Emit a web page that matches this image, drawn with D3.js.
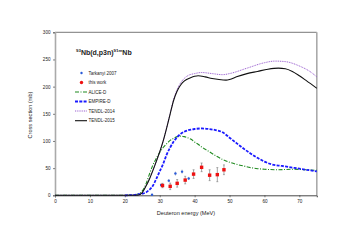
<!DOCTYPE html>
<meta charset="utf-8">
<style>
    body { margin: 0; background: #fff; }
    text { font-family: "Liberation Sans", Arial, sans-serif; fill: #222; }
</style>
<svg width="351" height="248"></svg>
<script src="https://d3js.org/d3.v7.min.js"></script>
<script>

    // measured data (Tarkanyi 2007, this work)
    var tarkE = [27.8, 30.4, 32.6, 34.5, 36.4, 38.3];
    var tarkV = [1, 19, 27, 40, 43.5, 31];
    var tarkErr = [1, 3, 3, 4, 4, 3];

    var workE = [30.8, 33.0, 35.0, 37.3, 39.7, 42.0, 44.3, 46.5, 48.4];
    var workV = [18, 16.5, 22, 28, 39, 51.5, 37, 38, 47];
    var workErr = [4, 6, 7, 7, 8, 8, 10, 13, 9];

    // model curves
    var aliceE = [0, 20, 22, 23, 24, 25, 26, 27, 28, 29, 30, 31, 32, 33, 34, 35, 36, 37, 38, 39, 40, 41, 42, 43, 44, 46, 48, 50, 52, 54, 56, 58, 60, 64, 68, 72, 75];
    var aliceV = [0, 0, 0.3, 1, 3, 8, 20, 38, 55, 68, 79, 88, 95, 101, 105, 108, 109, 108, 106, 103, 98, 94, 89, 85, 81, 73, 66, 61, 57, 54, 51, 49, 48, 47, 48, 47, 46];

    var empireE = [20, 22, 24, 25, 26, 27, 28, 29, 30, 31, 32, 33, 34, 35, 36, 37, 38, 39, 40, 42, 44, 46, 48, 50, 52, 54, 56, 58, 60, 62, 65, 68, 71, 75];
    var empireV = [0, 0.5, 2, 3, 5, 10, 17, 30, 44, 58, 75, 88, 99, 107, 113, 117, 119.5, 121, 122, 123, 122, 120, 116, 106, 96, 86, 77, 69, 62, 57, 54, 51, 48, 44];

    var tendl14E = [0, 20, 23, 24, 25, 26, 27, 28, 29, 30, 31, 32, 33, 34, 35, 36, 37, 38, 40, 42, 45, 48, 50, 55, 60, 63, 66, 70, 73, 75];
    var tendl14V = [0, 0, 0.2, 0.6, 5, 16, 29, 45, 62, 80, 100, 125, 151, 177, 195, 207, 215, 220, 224, 226, 224, 222, 224, 234, 244, 247, 246, 238, 228, 218];

    var tendl15E = [0, 20, 23, 24, 25, 26, 27, 28, 29, 30, 31, 32, 33, 34, 35, 36, 37, 38, 39, 40, 41, 43, 45, 47, 49, 50, 52, 55, 58, 61, 64, 66, 68, 70, 72, 75];
    var tendl15V = [0, 0, 0.2, 0.6, 5, 16, 29, 45, 62, 80, 100, 124, 150, 175, 192, 203, 210, 214, 217, 219, 220, 218, 215, 213, 212, 213, 218, 224, 228, 232, 234, 233, 228, 220, 211, 197];

    var xTicks = [0, 10, 20, 30, 40, 50, 60, 70];
    var yTicks = [0, 50, 100, 150, 200, 250, 300];

    var svg = d3.select("svg");

    var x = d3.scaleLinear().domain([0, 75]).range([55, 316.8]);
    var y = d3.scaleLinear().domain([0, 300]).range([195.3, 32.3]);

    function pts(es, vs) {
        return es.map(function(e, i) { return [e, vs[i]]; });
    }

    var line = d3.line()
        .x(function(d) { return x(d[0]); })
        .y(function(d) { return y(d[1]); })
        .curve(d3.curveMonotoneX);

    // frame
    svg.append("line").attr("x1", x(0)).attr("x2", x(75)).attr("y1", y(300)).attr("y2", y(300))
        .attr("stroke", "#555").attr("stroke-width", 0.8);
    svg.append("line").attr("x1", x(75)).attr("x2", x(75)).attr("y1", y(300)).attr("y2", y(0))
        .attr("stroke", "#aaa").attr("stroke-width", 1.6);

    // axes
    var xAxis = svg.append("g")
        .attr("transform", "translate(0," + y(0) + ")")
        .call(d3.axisBottom(x).tickValues(xTicks).tickSize(2).tickPadding(2.5));
    xAxis.select(".domain").attr("stroke", "#333").attr("stroke-width", 0.9);
    xAxis.selectAll("line").attr("stroke", "#333").attr("stroke-width", 0.6);
    xAxis.selectAll("text").style("font-size", "4.6px").attr("fill", "#222");

    var yAxis = svg.append("g")
        .attr("transform", "translate(" + x(0) + ",0)")
        .call(d3.axisLeft(y).tickValues(yTicks).tickSize(2).tickPadding(2.5));
    yAxis.select(".domain").attr("stroke", "#aaa").attr("stroke-width", 1.6);
    yAxis.selectAll("line").attr("stroke", "#333").attr("stroke-width", 0.6);
    yAxis.selectAll("text").style("font-size", "4.6px").attr("fill", "#222");

    // axis titles
    svg.append("text")
        .attr("x", 186).attr("y", 215)
        .attr("text-anchor", "middle")
        .style("font-size", "5.6px")
        .text("Deuteron energy (MeV)");

    svg.append("text")
        .attr("transform", "translate(32,115) rotate(-90)")
        .attr("text-anchor", "middle")
        .style("font-size", "5.6px")
        .text("Cross section (mb)");

    // curves
    var curves = [
        { e: aliceE, v: aliceV, color: "#1f8a1f", width: 1.1, dash: "4,1.5,1,1.5" },
        { e: empireE, v: empireV, color: "#1a1aff", width: 1.8, dash: "3,1.3" },
        { e: tendl14E, v: tendl14V, color: "#9a5fd0", width: 1, dash: "1,0.8" },
        { e: tendl15E, v: tendl15V, color: "#111", width: 1.1, dash: null }
    ];

    curves.forEach(function(c) {
        svg.append("path")
            .datum(pts(c.e, c.v))
            .attr("fill", "none")
            .attr("stroke", c.color)
            .attr("stroke-width", c.width)
            .attr("stroke-dasharray", c.dash)
            .attr("d", line);
    });

    // Tarkanyi points
    var tark = svg.append("g").selectAll("g")
        .data(tarkE.map(function(e, i) { return { e: e, v: tarkV[i], err: tarkErr[i] }; }))
        .enter().append("g");
    tark.append("line")
        .attr("x1", function(d) { return x(d.e); }).attr("x2", function(d) { return x(d.e); })
        .attr("y1", function(d) { return y(d.v - d.err); }).attr("y2", function(d) { return y(d.v + d.err); })
        .attr("stroke", "#999").attr("stroke-width", 0.5);
    tark.append("circle")
        .attr("cx", function(d) { return x(d.e); })
        .attr("cy", function(d) { return y(d.v); })
        .attr("r", 1.2)
        .attr("fill", "#2a5ad8");

    // this work points
    var work = svg.append("g").selectAll("g")
        .data(workE.map(function(e, i) { return { e: e, v: workV[i], err: workErr[i] }; }))
        .enter().append("g");
    work.append("line")
        .attr("x1", function(d) { return x(d.e); }).attr("x2", function(d) { return x(d.e); })
        .attr("y1", function(d) { return y(d.v - d.err); }).attr("y2", function(d) { return y(d.v + d.err); })
        .attr("stroke", "#666").attr("stroke-width", 0.6);
    [-1, 1].forEach(function(s) {
        work.append("line")
            .attr("x1", function(d) { return x(d.e) - 1; }).attr("x2", function(d) { return x(d.e) + 1; })
            .attr("y1", function(d) { return y(d.v + s * d.err); }).attr("y2", function(d) { return y(d.v + s * d.err); })
            .attr("stroke", "#666").attr("stroke-width", 0.5);
    });
    work.append("rect")
        .attr("x", function(d) { return x(d.e) - 1.7; })
        .attr("y", function(d) { return y(d.v) - 1.7; })
        .attr("width", 3.4).attr("height", 3.4)
        .attr("fill", "#ee1111");

    // title
    var title = svg.append("text")
        .attr("x", 76).attr("y", 54.5)
        .style("font-size", "7px")
        .style("font-weight", "bold");
    title.append("tspan").attr("dy", "-2.3").style("font-size", "4.4px").text("93");
    title.append("tspan").attr("dy", "2.3").text("Nb(d,p3n)");
    title.append("tspan").attr("dy", "-2.3").style("font-size", "4.4px").text("91m");
    title.append("tspan").attr("dy", "2.3").text("Nb");

    // legend
    var legendNames = ["Tarkanyi 2007", "this work", "ALICE-D", "EMPIRE-D", "TENDL-2014", "TENDL-2015"];
    var legendY = [73, 82.5, 92, 101.5, 111, 120.7];

    legendNames.forEach(function(name, i) {
        var ly = legendY[i];
        if (i === 0) {
            svg.append("circle").attr("cx", 81.5).attr("cy", ly).attr("r", 1.2).attr("fill", "#2a5ad8");
        } else if (i === 1) {
            svg.append("circle").attr("cx", 81.5).attr("cy", ly).attr("r", 1.7).attr("fill", "#ee1111");
        } else {
            var c = curves[i - 2];
            svg.append("line")
                .attr("x1", 75).attr("x2", 87).attr("y1", ly).attr("y2", ly)
                .attr("stroke", c.color)
                .attr("stroke-width", c.width)
                .attr("stroke-dasharray", c.dash);
        }
        svg.append("text")
            .attr("x", 88.5).attr("y", ly + 1.6)
            .style("font-size", "4.5px")
            .text(name);
    });

</script>
